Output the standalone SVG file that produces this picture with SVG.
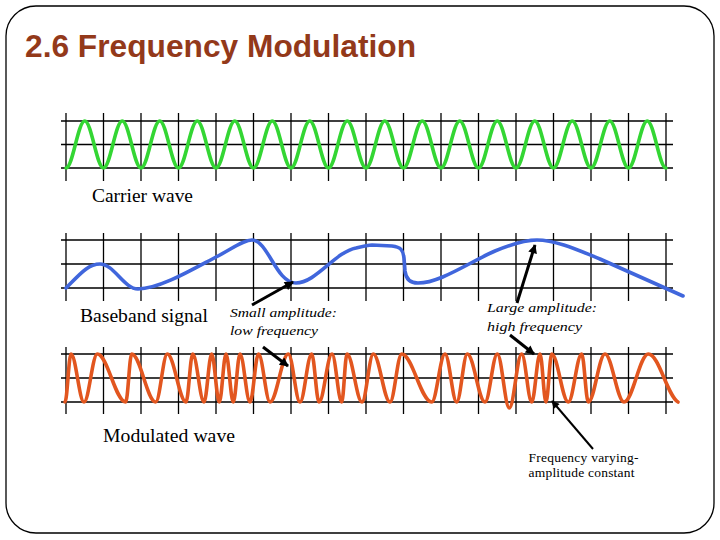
<svg xmlns="http://www.w3.org/2000/svg" width="720" height="540" viewBox="0 0 720 540">
<style>
.grid{stroke:#000;stroke-width:1.3;fill:none}
.wave{fill:none;stroke-width:3.6;stroke-linejoin:round;stroke-linecap:round}
.lbl{font-family:"Liberation Serif","Times New Roman",serif;fill:#000}
.big{font-size:18px}
.ital{font-size:13.5px;font-style:italic}
.small{font-size:13.5px}
.arrow{stroke:#000;stroke-width:3;fill:none;marker-end:url(#ah)}
.arrow2{stroke:#000;stroke-width:2;fill:none;marker-end:url(#ah2)}
</style>
<defs>
<marker id="ah" viewBox="0 0 10 10" refX="9" refY="5" markerWidth="10" markerHeight="9" markerUnits="userSpaceOnUse" orient="auto">
<path d="M0,0 L10,5 L0,10 z" fill="#000"/>
</marker>
<marker id="ah2" viewBox="0 0 10 10" refX="9" refY="5" markerWidth="10" markerHeight="8" markerUnits="userSpaceOnUse" orient="auto">
<path d="M0,0 L10,5 L0,10 z" fill="#000"/>
</marker>
</defs>
<rect x="6" y="6" width="708" height="527" rx="30" ry="30" fill="#fff" stroke="#000" stroke-width="1.3"/>
<g id="title">
<text x="25" y="57" font-family="'Liberation Sans',Arial,sans-serif" font-weight="bold" font-size="31" fill="#93391a" textLength="391" lengthAdjust="spacingAndGlyphs">2.6 Frequency Modulation</text>
</g>
<g id="carrier">
<g class="grid">
<path d="M61,121H673M61,144.5H673M61,168H673"/>
<path d="M66,113V181M103.5,113V181M141,113V181M178.5,113V181M216,113V181M253.5,113V181M291,113V181M328.5,113V181M366,113V181M403.5,113V181M441,113V181M478.5,113V181M516,113V181M553.5,113V181M591,113V181M628.5,113V181M666,113V181"/>
</g>
<path class="wave" stroke="#33d633" d="M66,168 c6.75,0 12,-47 18.75,-47 s12,47 18.75,47 s12,-47 18.75,-47 s12,47 18.75,47 s12,-47 18.75,-47 s12,47 18.75,47 s12,-47 18.75,-47 s12,47 18.75,47 s12,-47 18.75,-47 s12,47 18.75,47 s12,-47 18.75,-47 s12,47 18.75,47 s12,-47 18.75,-47 s12,47 18.75,47 s12,-47 18.75,-47 s12,47 18.75,47 s12,-47 18.75,-47 s12,47 18.75,47 s12,-47 18.75,-47 s12,47 18.75,47 s12,-47 18.75,-47 s12,47 18.75,47 s12,-47 18.75,-47 s12,47 18.75,47 s12,-47 18.75,-47 s12,47 18.75,47 s12,-47 18.75,-47 s12,47 18.75,47 s12,-47 18.75,-47 s12,47 18.75,47 s12,-47 18.75,-47 s12,47 18.75,47"/>
<text class="lbl big" x="92" y="202" textLength="101" lengthAdjust="spacingAndGlyphs">Carrier wave</text>
</g>
<g id="baseband">
<g class="grid">
<path d="M61,240H673M61,264H673M61,288H673"/>
<path d="M66,233V301M103.5,233V301M141,233V301M178.5,233V301M216,233V301M253.5,233V301M291,233V301M328.5,233V301M366,233V301M403.5,233V301M441,233V301M478.5,233V301M516,233V301M553.5,233V301M591,233V301M628.5,233V301M666,233V301"/>
</g>
<path class="wave" stroke="#4066dc" d="M66,288 C80,274 88,264 100,264 C114,264 124,289 138,289 C160,289 195,268 216,257 C232,249 243,240 252,240 C268,240 276,283 296,283 C316,283 335,252 356,248 C364,246 368,245 372,245 L392,246 C401,247 403,250 404,258 L405,271 C406,280 411,283 418,283 C440,283 468,263 495,251 C512,244 526,240 537,240 C556,240 580,251 600,259 L683,296"/>
<text class="lbl big" x="80" y="322" textLength="128" lengthAdjust="spacingAndGlyphs">Baseband signal</text>
</g>
<g id="modulated">
<g class="grid">
<path d="M61,354H673M61,378H673M61,402H673"/>
<path d="M66,347V414M103.5,347V414M141,347V414M178.5,347V414M216,347V414M253.5,347V414M291,347V414M328.5,347V414M366,347V414M403.5,347V414M441,347V414M478.5,347V414M516,347V414M553.5,347V414M591,347V414M628.5,347V414M666,347V414"/>
</g>
<path class="wave" stroke="#e2561f" d="M65,402 C67.2,402 68.8,354 71,354 C75.7,354 79.3,402 84,402 C88.8,402 92.5,354 97.3,354 C107.5,354 115.5,402 125.7,402 C127.9,402 129.5,354 131.7,354 C140.3,354 147.1,402 155.7,402 C159.9,402 163.1,354 167.3,354 C174,354 179.3,402 186,402 C188.4,402 190.3,354 192.7,354 C196.8,354 199.9,402 204,402 C206.8,402 208.9,354 211.7,354 C214.4,354 216.6,402 219.3,402 C221.7,402 223.6,354 226,354 C228.6,354 230.7,402 233.3,402 C235.7,402 237.6,354 240,354 C243.6,354 246.4,402 250,402 C253.1,402 255.4,354 258.5,354 C262.6,354 265.9,402 270,402 C276.6,402 281.7,354 288.3,354 C292.5,354 295.8,402 300,402 C304.2,402 307.5,354 311.7,354 C314.3,354 316.4,402 319,402 C323.7,402 327.3,354 332,354 C335.5,354 338.2,402 341.7,402 C343.6,402 345.1,354 347,354 C352.4,354 356.6,402 362,402 C366.1,402 369.2,354 373.3,354 C379.3,354 384,402 390,402 C394.2,402 397.5,354 401.7,354 C412.5,354 420.9,402 431.7,402 C436.5,402 440.2,354 445,354 C449.2,354 452.5,402 456.7,402 C460.5,402 463.5,354 467.3,354 C473.7,354 478.6,402 485,402 C489.4,402 492.9,354 497.3,354 C501.6,354 505,408 509.3,408 C513.8,408 517.2,354 521.7,354 C525.3,354 528.1,402 531.7,402 C534.7,402 537,354 540,354 C542.2,354 543.8,402 546,402 C548.1,402 549.7,354 551.7,354 C557.7,354 562.3,402 568.3,402 C573.1,402 576.9,354 581.7,354 C584.1,354 585.9,402 588.3,402 C594.3,402 599,354 605,354 C611.8,354 617.2,402 624,402 C632.8,402 639.6,354 648.3,354 C659,354 667.3,396 678,402"/>
<text class="lbl big" x="103" y="442" textLength="132" lengthAdjust="spacingAndGlyphs">Modulated wave</text>
</g>
<g id="label-small">
<text class="lbl ital" x="230" y="317" textLength="107" lengthAdjust="spacingAndGlyphs">Small amplitude:</text>
<text class="lbl ital" x="230" y="335" textLength="88" lengthAdjust="spacingAndGlyphs">low frequency</text>
</g>
<g id="label-large">
<text class="lbl ital" x="487" y="312" textLength="110" lengthAdjust="spacingAndGlyphs">Large amplitude:</text>
<text class="lbl ital" x="487" y="331" textLength="95" lengthAdjust="spacingAndGlyphs">high frequency</text>
</g>
<g id="label-constant">
<text class="lbl small" x="528.5" y="462" textLength="110" lengthAdjust="spacing">Frequency varying-</text>
<text class="lbl small" x="528.5" y="477" textLength="106" lengthAdjust="spacing">amplitude constant</text>
</g>
<g id="connectors">
<path class="arrow" d="M252,305 L293,282"/>
<path class="arrow" d="M263,347 L288,366"/>
<path class="arrow" d="M517,303 L535,245"/>
<path class="arrow" d="M510,335 L534,354"/>
<path class="arrow2" d="M593,449 L552,401"/>
</g>
</svg>
